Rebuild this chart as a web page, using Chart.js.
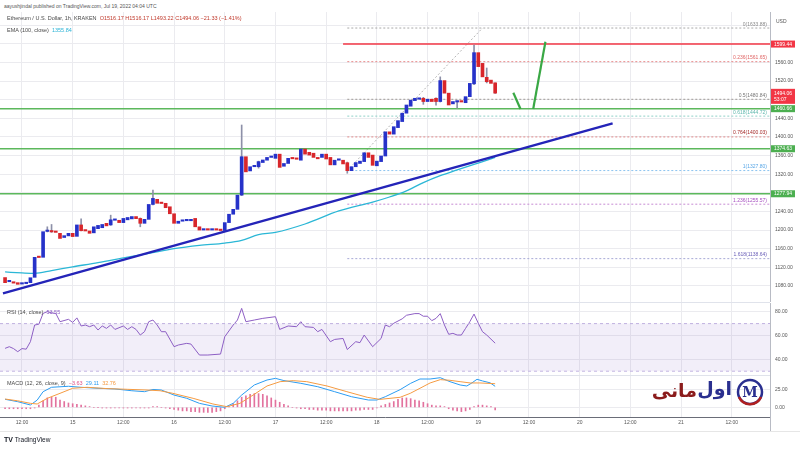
<!DOCTYPE html>
<html><head><meta charset="utf-8">
<script src="https://cdn.jsdelivr.net/npm/chart.js@4.4.1/dist/chart.umd.min.js"></script>
<style>
html,body{margin:0;padding:0;background:#fff;width:800px;height:450px;overflow:hidden;font-family:'Liberation Sans',Arial,sans-serif;position:relative;}
canvas{position:absolute;left:0;}
.t{position:absolute;white-space:nowrap;color:#4a4a4a;}
.ln{position:absolute;background:#e0e3eb;}
</style></head><body>
<div class="t" style="left:4px;top:3px;font-size:5px;line-height:6px;color:#555">aayushjindal published on TradingView.com, Jul 19, 2022 04:04 UTC</div>
<canvas id="main" width="800" height="290" style="top:12px"></canvas>
<canvas id="rsi" width="800" height="72" style="top:303px"></canvas>
<canvas id="macd" width="800" height="55" style="top:375px"></canvas>
<div class="ln" style="left:0;top:302px;width:770px;height:1px"></div>
<div class="ln" style="left:0;top:375px;width:770px;height:1px"></div>
<div class="ln" style="left:0;top:431px;width:800px;height:1px;background:#e6e6e6"></div>
<div class="ln" style="left:770px;top:417px;width:1px;height:14px;background:#b8bbc4"></div>
<div class="t" style="left:7px;top:15px;font-size:5.5px;line-height:6px">Ethereum / U.S. Dollar, 1h, KRAKEN&nbsp; <span style="color:#c0392b">O1516.17 H1516.17 L1493.22 C1494.06 −21.33 (−1.41%)</span></div>
<div class="t" style="left:7px;top:27px;font-size:5.5px;line-height:6px">EMA (100, close)&nbsp; <span style="color:#2bb3d6">1355.84</span></div>
<div class="t" style="left:776px;top:18px;font-size:5px;line-height:6px;color:#555">USD</div>
<div class="t" style="left:7px;top:309px;font-size:5.5px;line-height:6px">RSI (14, close)&nbsp; <span style="color:#8e5fc4">53.55</span></div>
<div class="t" style="left:7px;top:380px;font-size:5.5px;line-height:6px">MACD (12, 26, close, 9)&nbsp; <span style="color:#e0528a">−3.63</span>&nbsp; <span style="color:#2b9cf2">29.11</span>&nbsp; <span style="color:#f59b42">32.76</span></div>
<div class="t" style="left:4px;top:436px;font-size:6.5px;line-height:8px;color:#131722"><b style="font-size:7px">TV</b> TradingView</div>
<div class="t" style="right:103px;top:378px;font:bold 19px 'DejaVu Sans';color:#8b1c1c;line-height:24px;" dir="rtl">مانی</div>
<div class="t" style="right:68px;top:376px;font:bold 19px 'DejaVu Sans';color:#2a2f8f;line-height:24px;" dir="rtl">اول</div>
<svg style="position:absolute;left:735px;top:377px" width="30" height="30">
  <circle cx="15" cy="15" r="12" fill="none" stroke="#2a2f8f" stroke-width="2.5"/>
  <path d="M4 20 A12 12 0 0 0 26 20" fill="none" stroke="#b02020" stroke-width="2.5"/>
  <text x="15" y="20" text-anchor="middle" font-family="DejaVu Serif" font-weight="bold" font-size="14" fill="#2a2f8f">M</text>
</svg>
<script>
// ---------- DATA ----------
const FIRST_HOUR = -16; // hours relative to Jul 15 00:00, one candle per hour
const candleOpen = [
 1098,1089,1088,1087,1084,1085,1087,1098.5,1143,1141.5,
 1197,1198,1196,1193,1184,1187.5,1193,1186.5,1211,1199,
 1198,1194,1203,1205,1214.5,1211,1221,1221,1216,1222,
 1224,1229,1225,1214.5,1223,1255,1266,1258,1257.5,1250,
 1235,1214.5,1219,1220,1220,1225,1207,1200,1201,1200,
 1201,1200,1199,1216,1234,1244.5,1275,1357.5,1327,1336,
 1336,1345,1350,1356,1354,1363,1337,1343,1354,1353,
 1350,1374,1367,1365,1354,1356,1363,1356,1340,1350,
 1350,1344.6,1327.5,1336,1343,1347,1366,1361,1338,1347,
 1359,1411,1406,1420,1433,1451,1466,1478,1481,1483,
 1476,1481,1483,1476,1521,1494,1471,1475,1476,1473.5,
 1486.5,1514,1581,1558,1528,1522,1516.17];
const candleClose = [
 1087,1090,1086,1083.5,1085,1086,1097.6,1141.5,1141,1196.5,
 1198.6,1196,1195,1182,1188,1193,1186,1211,1198.6,1198,
 1193,1207,1210,1212,1209,1222,1222,1216,1225,1227,
 1229,1224.5,1214.5,1223,1255,1268,1257.5,1257,1248,1235,
 1214.5,1219,1220,1221,1221,1207,1200,1201,1200,1201,
 1200,1199,1216,1234,1244.5,1275,1357.5,1325,1336,1337,
 1347,1350.5,1356,1357,1363,1334.6,1343,1354,1353,1352,
 1374,1363,1361,1356,1353,1363,1352.6,1340,1350,1351,
 1342,1327.5,1336,1345,1348,1366,1356,1339,1348,1359,
 1411,1406,1422,1435,1451,1468.6,1479,1483,1482,1476,
 1481,1476,1476,1521,1494,1468.6,1476,1476,1475,1486.5,
 1515,1581,1551,1529,1518.6,1515,1494.06];
const wickHours = [-6,-5,2,9,16,19,40,44,65,83,86,87,91,95,98,100];
const wickLow   = [1196,1195,1198,1210,1207,1254,1274,1333,1322,1470,1468,1475,1462,1512,1516,1493.22];
const wickHigh  = [1207,1212,1224,1232,1226,1286,1425.6,1348,1346,1485,1484,1529,1477,1597,1548,1516.17];

const emaHours  = [-16,-12,-9,-5,0,6,13,18,24,30,36,40,44,48,55,63,71,75,79,83,87,91,95,99,100];
const emaValues = [1110,1108,1107,1113,1121,1130,1142,1150,1160,1167,1172,1178,1190,1195,1213,1241,1260,1271,1284,1302,1317,1329,1341,1353,1355.84];

const trendHours  = [-16.5, 127.8];
const trendValues = [1064.2, 1429];
const arrowDownHours = [104.3, 106], arrowDownValues = [1495, 1460];
const arrowUpHours   = [109, 111.9],  arrowUpValues   = [1460, 1604.5];

const supportLevels = [1460.66, 1374.63, 1277.94];
const resistanceLevel = 1599.44;
const resistanceStartHour = 64;
const fibRatios = ['0','0.236','0.5','0.618','0.764','1','1.236','1.618'];
const fibLevels = [1633.88,1561.65,1480.84,1444.72,1400.03,1327.80,1255.57,1138.64];
const fibStartHour = 65;
const fibDiagHours = [65, 97], fibDiagValues = [1327.80, 1633.88];
const lastPrice = 1494.06, lastCountdown = '53:07';

const priceTicks = [1080,1120,1160,1200,1240,1280,1320,1360,1400,1440,1480,1520,1560,1600,1640];
const hiddenPriceTicks = [1280,1480,1600,1640];
const timeTickHours  = [-12,0,12,24,36,48,60,72,84,96,108,120,132,144,156];
const timeTickLabels = ['12:00','15','12:00','16','12:00','17','12:00','18','12:00','19','12:00','20','12:00','21','12:00'];

const rsiHours  = [-16,-15,-14,-13,-12,-11,-10,-9,-8,-7,-6,-5,-4,-3,-1,0,1,2,3,4,5,6,7,8,9,10,12,13,14,15,16,17,18,19,20,21,22,24,25,27,28,30,32,35,36,38,39,40,41,43,45,48,49,51,53,54,55,57,58,59,61,62,64,65,67,68,69,71,73,74,75,76,78,79,81,82,83,84,85,86,87,88,89,90,91,92,93,94,95,96,97,98,100];
const rsiValues = [49.2,50.6,49,46.4,49,48.5,54.8,68.8,69.5,78.6,80,79,78.6,71.6,73.6,71,74.8,68,68.8,67.4,68.8,64.6,68,66,68.8,65.1,68,65.1,67.4,65.1,60.4,63.2,71.6,73,68.8,63.2,63.2,50.6,52,53.4,52.8,43.6,43.6,44.4,59,68.8,73,82.8,71.6,73,74.4,75.8,65.1,68,67.4,71.6,67.4,66.8,63.2,65.1,54.8,56.7,57.5,48.2,54.8,54,60.4,50.6,57.5,68.8,67.4,70.3,74,77,78.4,78.4,76.2,76.2,72.5,74.4,78.4,68.8,61,61.8,60.4,60.4,66,71.6,78,70.3,63.2,60.4,53.55];
const rsiTicks = [40,60,80];
const rsiUpper = 70, rsiLower = 30;

const macdHours  = [-16,-13,-10,-8.4,-7,-5,-1,2,6,10,14,17,19,21,24,27,30,33,36,38,40,43,46,48,50,54,58,62,66,70,72,74,77.5,80,82.2,84.6,87,89.3,91.7,93.3,94.5,95.7,97,98.8,100];
const macdValues = [11.1,7.8,3.2,10,21.7,27.8,29.2,27.8,26.4,25.5,23,21.7,24.8,24,17,12.5,5.5,1.8,0,5.5,17,31,37.9,40.2,37.1,33.3,28.6,21.7,14.7,10.1,10.1,14.7,24.5,33.3,39.3,39.3,41.1,35.6,31,29.6,33.9,38.9,36.6,34,29.11];
const signalHours  = [-16,-13,-10,-8.4,-6,-3,0,3.4,8.1,12.9,17.6,20.7,23.7,28.5,33.2,36.5,39.6,42.7,46,49.1,52.2,55.4,60.2,64.9,69.7,72.7,77.5,79.9,82.2,84.6,87,89.3,91.7,94.1,96.4,100];
const signalValues = [11.5,9,5.5,4.6,12.5,19.4,26.4,27.8,26,25,24,23,19.4,12.5,4.6,0.9,5.5,17,29.6,35.6,37,35.6,29.6,21.7,13.9,11,13.9,19.4,26.4,33.8,38.4,37.5,35.6,33.8,33.8,32.76];
const histValues = [
 -2,-2,-2,-2,-2,-2,-2,-1,3,9,
 13,14,14,10,8,6,5,4,3,2,
 1,0,0,-1,-1,-1,-1,-1,-1,-1,
 -1,-1,-1,-1,-1,1,1,0,-1,-2,
 -3,-4,-5,-5,-6,-6,-7,-7,-7,-7,
 -6,-5,-2,1,5,9,14,16,18,19,
 19,18,16,13,10,7,4,2,0,-1,
 -2,-2,-3,-3,-4,-4,-4,-5,-5,-5,
 -5,-5,-5,-4,-4,-3,-3,-3,-1,2,
 4,6,8,11,13,13,12,10,9,7,
 5,3,2,2,1,-2,-4,-5,-6,-5,
 -3,1,3,3,2,1,-3.63];
const macdTicks = [0,25];

// ---------- VIEW ----------
const X_MIN = -17.2, X_MAX = 165.05;
const FONT = "'Liberation Sans', Arial, sans-serif";
const GRID = '#ebebef';
const UP = '#2632c9', DOWN = '#d8262b';
const fibLineColors  = ['#a8a8a8','#e88a8a','#a09a96','#8fd0c8','#e08a8a','#8cc4f0','#c78bd3','#a7aad6'];
const fibLabelColors = ['#8a8a8a','#e06666','#777777','#5fb8ad','#a52a2a','#5aa7e6','#a64fc0','#6a5fb8'];

const pts = (xs, ys) => xs.map((x, i) => ({x, y: ys[i]}));
const hline = (from, v) => [{x: from, y: v}, {x: X_MAX, y: v}];

function xAxis(showTicks) {
  return {
    type: 'linear', min: X_MIN, max: X_MAX, offset: false,
    grid: {color: GRID, drawTicks: false, offset: false},
    border: {display: showTicks, color: '#6a6d78'},
    ticks: {display: showTicks, padding: 3, autoSkip: false, maxRotation: 0,
      font: {size: 5, family: FONT}, color: '#555', callback: (v, i) => timeTickLabels[i]},
    afterBuildTicks: s => { s.ticks = timeTickHours.map(v => ({value: v})); },
    afterFit: s => { s.height = showTicks ? 13 : 0; s.paddingLeft = 0; s.paddingRight = 0; }
  };
}
function yAxis(min, max, tickVals, fmt) {
  return {
    position: 'right', min, max,
    grid: {color: GRID, drawTicks: false},
    border: {display: true, color: '#b8bbc4'},
    ticks: {padding: 5, autoSkip: false, font: {size: 5, family: FONT}, color: '#555', callback: fmt},
    afterBuildTicks: s => { s.ticks = tickVals.map(v => ({value: v})); },
    afterFit: s => { s.width = 30; s.paddingTop = 0; s.paddingBottom = 0; }
  };
}
const baseOpts = {
  responsive: false, maintainAspectRatio: false, animation: false, devicePixelRatio: 1,
  layout: {padding: 0},
  plugins: {legend: {display: false}, tooltip: {enabled: false}}
};
const lineDs = (data, color, width, extra) => Object.assign({type: 'line', data, borderColor: color,
  borderWidth: width, pointRadius: 0, fill: false, tension: 0}, extra || {});

// main pane
const candles = candleOpen.map((o, i) => ({x: FIRST_HOUR + i, y: [o, candleClose[i]]}));
const wicks = wickHours.map((h, i) => ({x: h, y: [wickLow[i], wickHigh[i]]}));
const mainDatasets = [];
fibLevels.forEach((lv, i) => mainDatasets.push(lineDs(hline(fibStartHour, lv), fibLineColors[i], 1, {borderDash: [2, 2], order: 20})));
mainDatasets.push(lineDs(pts(fibDiagHours, fibDiagValues), '#b5b5b5', 1, {borderDash: [2, 2], order: 20}));
supportLevels.forEach(lv => mainDatasets.push(lineDs(hline(X_MIN, lv), '#5cb85c', 1.4, {order: 15})));
mainDatasets.push(lineDs(hline(resistanceStartHour, resistanceLevel), '#f23645', 1.4, {order: 15}));
mainDatasets.push(lineDs(pts(emaHours, emaValues), '#2bb7d6', 1.3, {order: 12, cubicInterpolationMode: 'monotone'}));
mainDatasets.push({type: 'bar', data: wicks, backgroundColor: '#8d90a8', barThickness: 1, grouped: false, order: 11});
mainDatasets.push({type: 'bar', data: candles, grouped: false, barThickness: 3, minBarLength: 1.4, order: 10,
  backgroundColor: c => { const r = c.raw; return r && r.y[1] >= r.y[0] ? UP : DOWN; }});
mainDatasets.push(lineDs(pts(trendHours, trendValues), '#2424b8', 2.4, {order: 3}));
mainDatasets.push(lineDs(pts(arrowDownHours, arrowDownValues), '#3aa845', 2.2, {order: 2}));
mainDatasets.push(lineDs(pts(arrowUpHours, arrowUpValues), '#3aa845', 2.2, {order: 2}));

const priceBoxes = [
  {v: resistanceLevel, c: '#f23645'}, {v: supportLevels[0], c: '#4caf50'},
  {v: supportLevels[1], c: '#4caf50'}, {v: supportLevels[2], c: '#4caf50'}];

const mainOverlay = {
  id: 'mainOverlay',
  afterDraw(chart) {
    const {ctx, chartArea} = chart, y = chart.scales.y;
    ctx.save();
    ctx.font = '5px ' + FONT;
    ctx.textAlign = 'right'; ctx.textBaseline = 'alphabetic';
    fibLevels.forEach((lv, i) => {
      ctx.fillStyle = fibLabelColors[i];
      ctx.fillText(fibRatios[i] + '(' + lv.toFixed(2) + ')', chartArea.right - 3, y.getPixelForValue(lv) - 2.5);
    });
    const bx = chartArea.right + 1, bw = 24;
    ctx.textAlign = 'left'; ctx.textBaseline = 'middle';
    priceBoxes.forEach(b => {
      const py = y.getPixelForValue(b.v);
      ctx.fillStyle = b.c; ctx.fillRect(bx, py - 3.5, bw, 7);
      ctx.fillStyle = '#fff'; ctx.fillText(b.v.toFixed(2), bx + 3, py + 0.3);
    });
    const lp = y.getPixelForValue(lastPrice);
    ctx.fillStyle = '#f23645'; ctx.fillRect(bx, lp - 4.3, bw, 15);
    ctx.fillStyle = '#fff';
    ctx.fillText(lastPrice.toFixed(2), bx + 3, lp);
    ctx.fillText(lastCountdown, bx + 3, lp + 6);
    ctx.restore();
  }
};

new Chart(document.getElementById('main'), {
  type: 'bar',
  data: {datasets: mainDatasets},
  options: Object.assign({}, baseOpts, {
    scales: {
      x: xAxis(false),
      y: yAxis(1045.5, 1668.3, priceTicks, v => hiddenPriceTicks.includes(v) ? '' : v.toFixed(2))
    }
  }),
  plugins: [mainOverlay]
});

// RSI pane
new Chart(document.getElementById('rsi'), {
  type: 'line',
  data: {datasets: [
    lineDs(hline(X_MIN, rsiLower), '#c4b6e2', 1, {borderDash: [3, 3], fill: {value: rsiUpper}, backgroundColor: 'rgba(126,87,194,0.1)'}),
    lineDs(hline(X_MIN, rsiUpper), '#c4b6e2', 1, {borderDash: [3, 3]}),
    lineDs(pts(rsiHours, rsiValues), '#8e5fc4', 1)
  ]},
  options: Object.assign({}, baseOpts, {
    scales: {x: xAxis(false), y: yAxis(26.81, 87.31, rsiTicks, v => v.toFixed(2))}
  })
});

// MACD pane
const hist = histValues.map((v, i) => ({x: FIRST_HOUR + i, y: [0, v]}));
new Chart(document.getElementById('macd'), {
  type: 'bar',
  data: {datasets: [
    {type: 'bar', data: hist, backgroundColor: '#e2729e', barThickness: 1, grouped: false, order: 5},
    lineDs(pts(macdHours, macdValues), '#2b9cf2', 1, {order: 2}),
    lineDs(pts(signalHours, signalValues), '#f59b42', 1, {order: 1})
  ]},
  options: Object.assign({}, baseOpts, {
    scales: {x: xAxis(true), y: yAxis(-13.47, 44.86, macdTicks, v => v.toFixed(2))}
  })
});
</script>
</body></html>
